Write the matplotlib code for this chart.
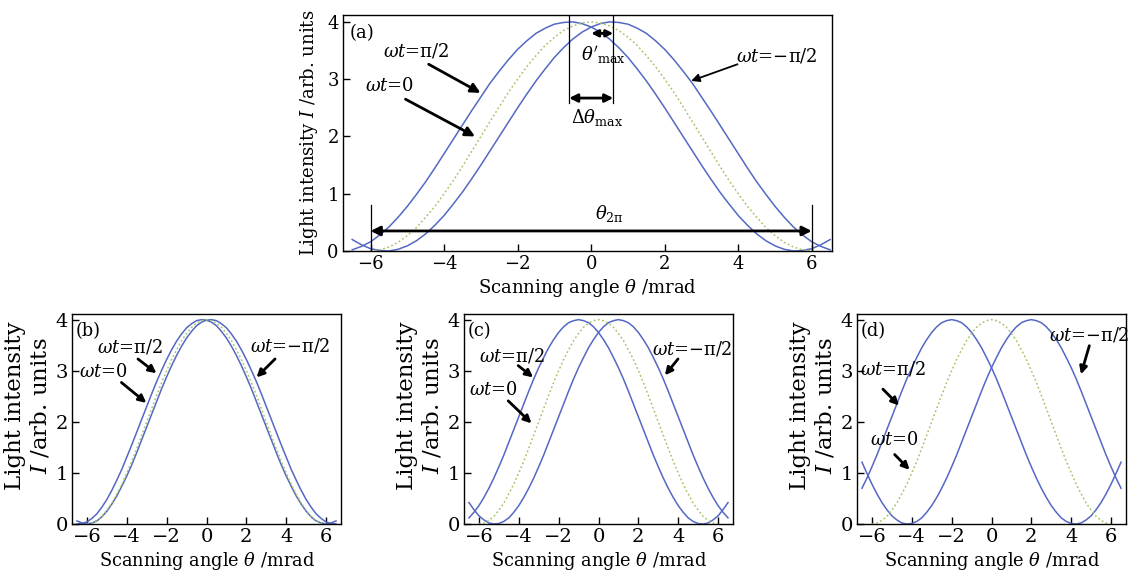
import matplotlib
matplotlib.use("Agg")
import matplotlib.pyplot as plt

plt.rcParams['font.family'] = ['DejaVu Serif']
plt.rcParams['mathtext.fontset'] = 'dejavuserif'

# ---------------- data ----------------
theta = [-6.5, -6.25, -6.0, -5.75, -5.5, -5.25, -5.0, -4.75, -4.5, -4.25, -4.0, -3.75,
         -3.5, -3.25, -3.0, -2.75, -2.5, -2.25, -2.0, -1.75, -1.5, -1.25, -1.0, -0.75,
         -0.5, -0.25, 0.0, 0.25, 0.5, 0.75, 1.0, 1.25, 1.5, 1.75, 2.0, 2.25, 2.5, 2.75,
         3.0, 3.25, 3.5, 3.75, 4.0, 4.25, 4.5, 4.75, 5.0, 5.25, 5.5, 5.75, 6.0, 6.25, 6.5]

theta_green = [-6.0, -5.75, -5.5, -5.25, -5.0, -4.75, -4.5, -4.25, -4.0, -3.75, -3.5,
               -3.25, -3.0, -2.75, -2.5, -2.25, -2.0, -1.75, -1.5, -1.25, -1.0, -0.75,
               -0.5, -0.25, 0.0, 0.25, 0.5, 0.75, 1.0, 1.25, 1.5, 1.75, 2.0, 2.25, 2.5,
               2.75, 3.0, 3.25, 3.5, 3.75, 4.0, 4.25, 4.5, 4.75, 5.0, 5.25, 5.5, 5.75, 6.0]
green_wt0 = [0.00, 0.02, 0.07, 0.15, 0.27, 0.41, 0.59, 0.78, 1.00, 1.23, 1.48, 1.74, 2.00,
             2.26, 2.52, 2.77, 3.00, 3.22, 3.41, 3.59, 3.73, 3.85, 3.93, 3.98, 4.00, 3.98,
             3.93, 3.85, 3.73, 3.59, 3.41, 3.22, 3.00, 2.77, 2.52, 2.26, 2.00, 1.74, 1.48,
             1.23, 1.00, 0.78, 0.59, 0.41, 0.27, 0.15, 0.07, 0.02, 0.00]

# panel (a): omega t = pi/2 and omega t = -pi/2
a_half = [0.02, 0.08, 0.16, 0.28, 0.42, 0.59, 0.78, 0.99, 1.21, 1.45, 1.70, 1.95, 2.20,
          2.45, 2.69, 2.93, 3.14, 3.34, 3.52, 3.67, 3.80, 3.89, 3.96, 3.99, 4.00, 3.97,
          3.91, 3.82, 3.70, 3.55, 3.38, 3.18, 2.97, 2.74, 2.50, 2.25, 2.00, 1.75, 1.50,
          1.26, 1.03, 0.82, 0.62, 0.45, 0.30, 0.18, 0.09, 0.03, 0.00, 0.01, 0.04, 0.11, 0.20]
a_mhalf = [0.20, 0.11, 0.04, 0.01, 0.00, 0.03, 0.09, 0.18, 0.30, 0.45, 0.62, 0.82, 1.03,
           1.26, 1.50, 1.75, 2.00, 2.25, 2.50, 2.74, 2.97, 3.18, 3.38, 3.55, 3.70, 3.82,
           3.91, 3.97, 4.00, 3.99, 3.96, 3.89, 3.80, 3.67, 3.52, 3.34, 3.14, 2.93, 2.69,
           2.45, 2.20, 1.95, 1.70, 1.45, 1.21, 0.99, 0.78, 0.59, 0.42, 0.28, 0.16, 0.08, 0.02]
# panel (b)
b_half = [0.00, 0.01, 0.04, 0.11, 0.20, 0.33, 0.48, 0.66, 0.86, 1.07, 1.31, 1.55, 1.80,
          2.05, 2.30, 2.55, 2.79, 3.01, 3.22, 3.41, 3.58, 3.72, 3.84, 3.92, 3.98, 4.00,
          3.99, 3.95, 3.88, 3.77, 3.64, 3.48, 3.30, 3.10, 2.88, 2.65, 2.40, 2.15, 1.90,
          1.65, 1.40, 1.16, 0.94, 0.74, 0.55, 0.39, 0.25, 0.14, 0.06, 0.02, 0.00, 0.02, 0.06]
b_mhalf = [0.06, 0.02, 0.00, 0.02, 0.06, 0.14, 0.25, 0.39, 0.55, 0.74, 0.94, 1.16, 1.40,
           1.65, 1.90, 2.15, 2.40, 2.65, 2.88, 3.10, 3.30, 3.48, 3.64, 3.77, 3.88, 3.95,
           3.99, 4.00, 3.98, 3.92, 3.84, 3.72, 3.58, 3.41, 3.22, 3.01, 2.79, 2.55, 2.30,
           2.05, 1.80, 1.55, 1.31, 1.07, 0.86, 0.66, 0.48, 0.33, 0.20, 0.11, 0.04, 0.01, 0.00]
# panel (c)
c_half = [0.12, 0.23, 0.36, 0.52, 0.70, 0.90, 1.12, 1.35, 1.60, 1.85, 2.10, 2.35, 2.60,
          2.84, 3.06, 3.26, 3.45, 3.61, 3.75, 3.86, 3.94, 3.98, 4.00, 3.98, 3.94, 3.86,
          3.75, 3.61, 3.45, 3.26, 3.06, 2.84, 2.60, 2.35, 2.10, 1.85, 1.60, 1.35, 1.12,
          0.90, 0.70, 0.52, 0.36, 0.23, 0.12, 0.05, 0.01, 0.00, 0.02, 0.08, 0.16, 0.28, 0.42]
c_mhalf = [0.42, 0.28, 0.16, 0.08, 0.02, 0.00, 0.01, 0.05, 0.12, 0.23, 0.36, 0.52, 0.70,
           0.90, 1.12, 1.35, 1.60, 1.85, 2.10, 2.35, 2.60, 2.84, 3.06, 3.26, 3.45, 3.61,
           3.75, 3.86, 3.94, 3.98, 4.00, 3.98, 3.94, 3.86, 3.75, 3.61, 3.45, 3.26, 3.06,
           2.84, 2.60, 2.35, 2.10, 1.85, 1.60, 1.35, 1.12, 0.90, 0.70, 0.52, 0.36, 0.23, 0.12]
# panel (d)
d_half = [0.70, 0.90, 1.12, 1.35, 1.60, 1.85, 2.10, 2.35, 2.60, 2.84, 3.06, 3.26, 3.45,
          3.61, 3.75, 3.86, 3.94, 3.98, 4.00, 3.98, 3.94, 3.86, 3.75, 3.61, 3.45, 3.26,
          3.06, 2.84, 2.60, 2.35, 2.10, 1.85, 1.60, 1.35, 1.12, 0.90, 0.70, 0.52, 0.36,
          0.23, 0.12, 0.05, 0.01, 0.00, 0.02, 0.08, 0.16, 0.28, 0.42, 0.59, 0.78, 0.99, 1.21]
d_mhalf = [1.21, 0.99, 0.78, 0.59, 0.42, 0.28, 0.16, 0.08, 0.02, 0.00, 0.01, 0.05, 0.12,
           0.23, 0.36, 0.52, 0.70, 0.90, 1.12, 1.35, 1.60, 1.85, 2.10, 2.35, 2.60, 2.84,
           3.06, 3.26, 3.45, 3.61, 3.75, 3.86, 3.94, 3.98, 4.00, 3.98, 3.94, 3.86, 3.75,
           3.61, 3.45, 3.26, 3.06, 2.84, 2.60, 2.35, 2.10, 1.85, 1.60, 1.35, 1.12, 0.90, 0.70]

x_ticks = [-6, -4, -2, 0, 2, 4, 6]
y_ticks = [0, 1, 2, 3, 4]
panel_tags = ['(a)', '(b)', '(c)', '(d)']

BLUE = '#5468c4'
GREEN = '#a9c46c'

W, H = 1138, 574
fig = plt.figure(figsize=(W / 100, H / 100), dpi=100)


def box(l, t, r, b):
    return [l / W, 1 - b / H, (r - l) / W, (b - t) / H]


def style(ax, fs, xlim):
    ax.set_xlim(*xlim)
    ax.set_ylim(0, 4.12)
    ax.set_xticks(x_ticks)
    ax.set_yticks(y_ticks)
    ax.tick_params(direction='in', length=5, width=1, top=False, right=False,
                   labelsize=fs, pad=3)
    for s in ax.spines.values():
        s.set_linewidth(1.0)


def curves(ax, half, mhalf):
    ax.plot(theta, half, color=BLUE, lw=1.1)
    ax.plot(theta, mhalf, color=BLUE, lw=1.1)
    ax.plot(theta_green, green_wt0, color=GREEN, lw=1.1, ls=(0, (1.2, 1.6)))


def arrow(ax, xy_from, xy_to, lw=2.0, ms=14):
    ax.annotate('', xy=xy_to, xytext=xy_from,
                arrowprops=dict(arrowstyle='-|>', color='k', lw=lw,
                                mutation_scale=ms, shrinkA=0, shrinkB=0))


def label(ax, x, y, txt, fs):
    ax.text(x, y, txt, fontsize=fs, ha='center', va='center')


WT_HALF = r'$\omega t$=π/2'
WT_ZERO = r'$\omega t$=0'
WT_MHALF = r'$\omega t$=−π/2'

# ---------------- panel (a) ----------------
fs = 13
ax = fig.add_axes(box(343, 15, 832, 251))
style(ax, fs, (-6.75, 6.55))
curves(ax, a_half, a_mhalf)
ax.set_xlabel(r'Scanning angle $\theta$ /mrad', fontsize=fs, labelpad=3)
ax.set_ylabel(r'Light intensity $I$ /arb. units', fontsize=fs, labelpad=5)
ax.text(-6.58, 3.8, panel_tags[0], fontsize=fs, ha='left', va='center')
label(ax, -4.76, 3.49, WT_HALF, fs)
arrow(ax, (-4.42, 3.26), (-3.01, 2.76))
label(ax, -5.49, 2.88, WT_ZERO, fs)
arrow(ax, (-5.05, 2.65), (-3.16, 2.0))
label(ax, 5.05, 3.40, WT_MHALF, fs)
arrow(ax, (3.98, 3.26), (2.72, 2.97), lw=1.3, ms=12)
# peak markers
ax.plot([-0.6, -0.6], [2.58, 4.12], color='k', lw=0.9)
ax.plot([0.6, 0.6], [2.58, 4.12], color='k', lw=0.9)
ax.annotate('', xy=(-0.6, 2.67), xytext=(0.6, 2.67),
            arrowprops=dict(arrowstyle='<|-|>', color='k', lw=2, mutation_scale=12,
                            shrinkA=0, shrinkB=0))
ax.annotate('', xy=(0.0, 3.80), xytext=(0.6, 3.80),
            arrowprops=dict(arrowstyle='<|-|>', color='k', lw=2, mutation_scale=10,
                            shrinkA=0, shrinkB=0))
ax.text(0.34, 3.43, r"$\theta'_{\mathrm{max}}$", fontsize=fs, ha='center', va='center')
ax.text(0.15, 2.33, r'$\Delta\theta_{\mathrm{max}}$', fontsize=fs, ha='center', va='center')
# 2pi span
ax.plot([-6, -6], [0, 0.8], color='k', lw=0.9)
ax.plot([6, 6], [0, 0.8], color='k', lw=0.9)
ax.annotate('', xy=(-6, 0.35), xytext=(6, 0.35),
            arrowprops=dict(arrowstyle='<|-|>', color='k', lw=2, mutation_scale=14,
                            shrinkA=0, shrinkB=0))
ax.text(0.5, 0.66, r'$\theta_{\mathrm{2\pi}}$', fontsize=fs, ha='center', va='center')

# ---------------- bottom panels ----------------
fsb = 12.8
fst = 14
fsy = 16.5
bottoms = [(72, 341), (464, 733), (857, 1126)]
data_b = [(b_half, b_mhalf), (c_half, c_mhalf), (d_half, d_mhalf)]
axes_b = []
for (l, r), (p, n), tag in zip(bottoms, data_b, panel_tags[1:]):
    axb = fig.add_axes(box(l, 313.5, r, 524))
    style(axb, fst, (-6.75, 6.75))
    curves(axb, p, n)
    axb.set_xlabel(r'Scanning angle $\theta$ /mrad', fontsize=fsb, labelpad=3)
    axb.set_ylabel('Light intensity\n' + r'$I$ /arb. units', fontsize=fsy,
                   linespacing=1.15)
    axb.yaxis.set_label_coords(-0.075, 0.56)
    axb.text(-6.58, 3.78, tag, fontsize=fsb, ha='left', va='center')
    axes_b.append(axb)

# (b)
ax = axes_b[0]
label(ax, -3.85, 3.46, WT_HALF, fsb)
arrow(ax, (-3.44, 3.23), (-2.51, 2.95), ms=11)
label(ax, -5.2, 2.98, WT_ZERO, fsb)
arrow(ax, (-4.27, 2.77), (-3.02, 2.37), ms=11)
label(ax, 4.19, 3.49, WT_MHALF, fsb)
arrow(ax, (3.44, 3.23), (2.51, 2.87), ms=11)

# (c)
ax = axes_b[1]
label(ax, -4.33, 3.29, WT_HALF, fsb)
arrow(ax, (-4.03, 3.10), (-3.28, 2.87), ms=11)
label(ax, -5.28, 2.62, WT_ZERO, fsb)
arrow(ax, (-4.53, 2.41), (-3.36, 1.97), ms=11)
label(ax, 4.70, 3.42, WT_MHALF, fsb)
arrow(ax, (3.99, 3.23), (3.33, 2.91), ms=11)

# (d)
ax = axes_b[2]
label(ax, -4.93, 3.03, WT_HALF, fsb)
arrow(ax, (-5.45, 2.64), (-4.64, 2.32), ms=11)
label(ax, -4.86, 1.65, WT_ZERO, fsb)
arrow(ax, (-4.86, 1.36), (-4.11, 1.06), ms=11)
label(ax, 4.90, 3.69, WT_MHALF, fsb)
arrow(ax, (4.91, 3.49), (4.49, 2.93), ms=11)

fig.savefig('out.png', dpi=100)
